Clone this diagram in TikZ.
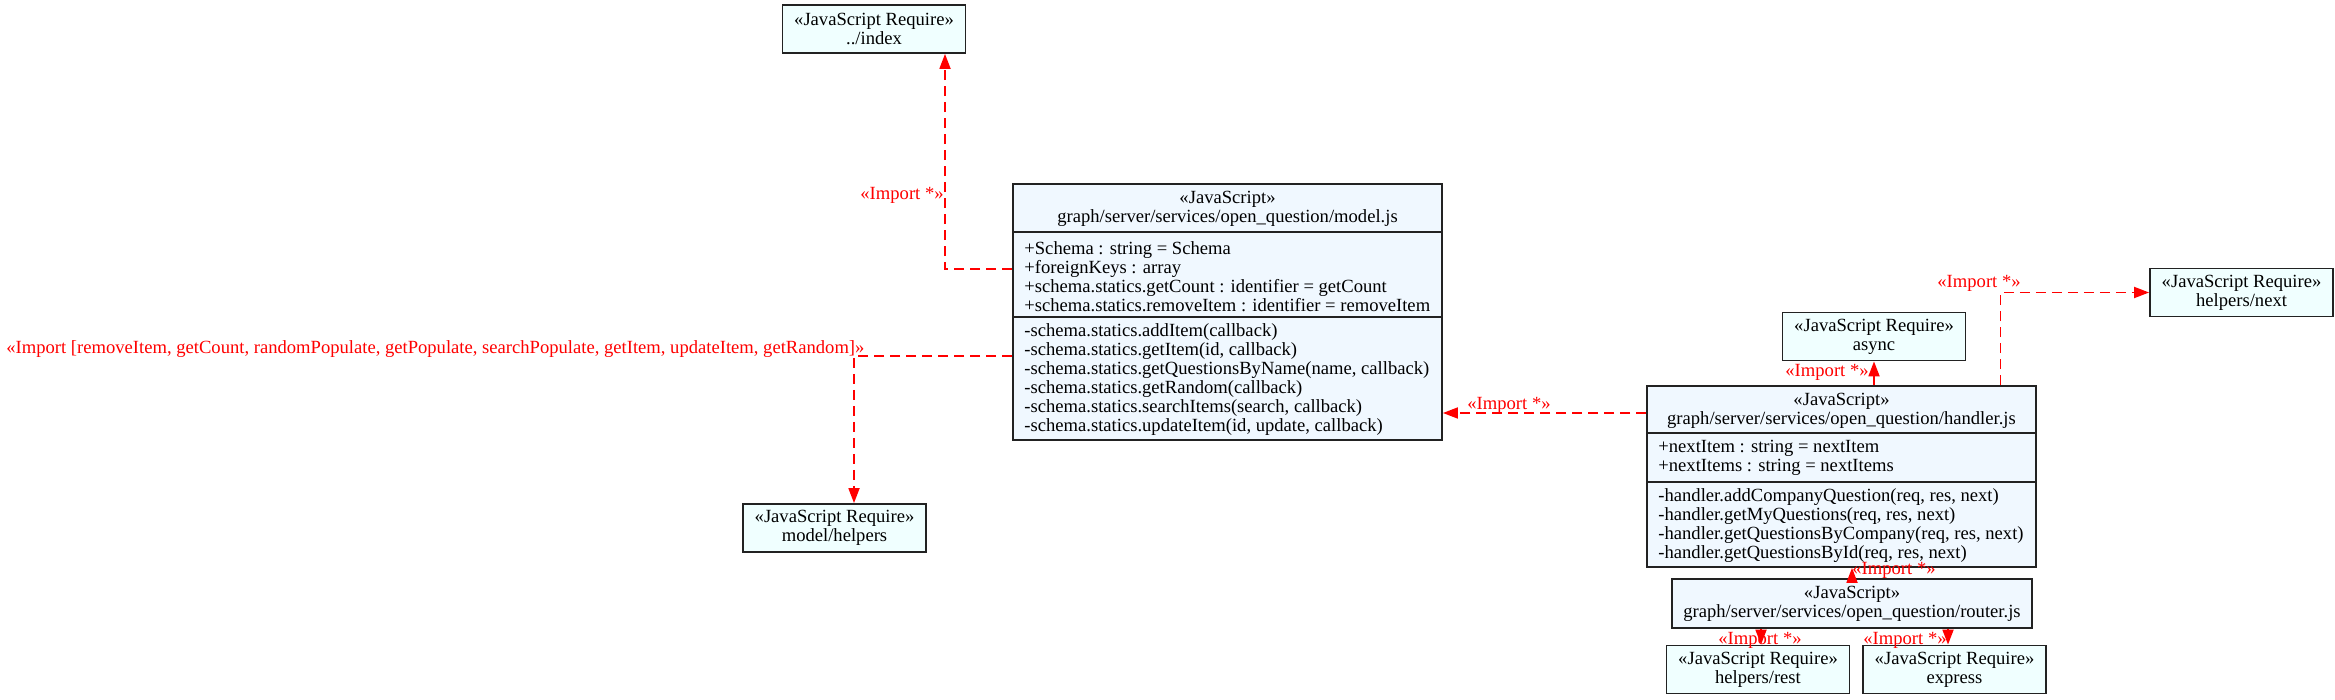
\documentclass[tikz,border=0pt]{standalone}
\usepackage{fontspec}
\setmainfont{Liberation Serif}
\usetikzlibrary{arrows.meta,calc}
\definecolor{jsfill}{HTML}{F0F8FF}
\definecolor{reqfill}{HTML}{F0FFFF}
\definecolor{edgered}{HTML}{FF0000}
\definecolor{boxdraw}{HTML}{222222}
\begin{document}
\begin{tikzpicture}[x=0.5pt,y=-0.5pt,
  every node/.style={font=\fontsize{9.3}{9.5}\selectfont, inner sep=0pt},
  reqbox/.style={draw=boxdraw, fill=reqfill, line width=0.9pt, minimum width=91.5pt, minimum height=24pt, align=center},
  jsbox/.style={draw=boxdraw, fill=jsfill, line width=0.9pt},
  divline/.style={draw=boxdraw, line width=0.9pt},
  imp/.style={draw=edgered, line width=0.9pt, dash pattern=on 5pt off 3pt, -{Triangle[length=7.5pt,width=5.5pt]}},
  implabel/.style={text=edgered}
]
\useasboundingbox (0,0) rectangle (2335,700);

% ---- boxes ----
\node[reqbox] (index) at (874,29) {«JavaScript Require»\\../index};
\node[reqbox] (mhelp) at (834.5,528) {«JavaScript Require»\\model/helpers};
\node[reqbox] (async) at (1874,336.5) {«JavaScript Require»\\async};
\node[reqbox] (next) at (2241.5,292.5) {«JavaScript Require»\\helpers/next};
\node[reqbox] (rest) at (1758,669.5) {«JavaScript Require»\\helpers/rest};
\node[reqbox] (express) at (1954.5,669.5) {«JavaScript Require»\\express};

% model.js
\node[jsbox, minimum width=214.5pt, minimum height=128pt] (model) at (1227.5,312) {};
\draw[divline] (model.west |- 0,232) -- (model.east |- 0,232);
\draw[divline] (model.west |- 0,317) -- (model.east |- 0,317);
\node[align=center] (modelhead) at (1227.5,209) {«JavaScript»\\graph/server/services/open\_question/model.js};
\node[align=left, anchor=west] (modelattr) at (1024,276.5) {+Schema : string = Schema\\+foreignKeys : array\\+schema.statics.getCount : identifier = getCount\\+schema.statics.removeItem : identifier = removeItem};
\node[align=left, anchor=west] (modelmeth) at (1024,380) {-schema.statics.addItem(callback)\\-schema.statics.getItem(id, callback)\\-schema.statics.getQuestionsByName(name, callback)\\-schema.statics.getRandom(callback)\\-schema.statics.searchItems(search, callback)\\-schema.statics.updateItem(id, update, callback)};

% handler.js
\node[jsbox, minimum width=194.5pt, minimum height=90.5pt] (handler) at (1841.5,476.5) {};
\draw[divline] (handler.west |- 0,433) -- (handler.east |- 0,433);
\draw[divline] (handler.west |- 0,482) -- (handler.east |- 0,482);
\node[align=center] (handlerhead) at (1841.5,411) {«JavaScript»\\graph/server/services/open\_question/handler.js};
\node[align=left, anchor=west] (handlerattr) at (1658,458) {+nextItem : string = nextItem\\+nextItems : string = nextItems};
\node[align=left, anchor=west] (handlermeth) at (1658,525.5) {-handler.addCompanyQuestion(req, res, next)\\-handler.getMyQuestions(req, res, next)\\-handler.getQuestionsByCompany(req, res, next)\\-handler.getQuestionsById(req, res, next)};

% router.js
\node[jsbox, minimum width=180pt, minimum height=24.5pt, align=center] (router) at (1852,603.5) {«JavaScript»\\graph/server/services/open\_question/router.js};

% ---- edges ----
\draw[imp] ($(model.west)+(0,-43)$) -| ($(index.south)+(71,0)$);
\node[implabel, anchor=east] (l1) at (944,195) {«Import *»};

\draw[imp] ($(model.west)+(0,44)$) -| ($(mhelp.north)+(19.5,0)$);
\node[implabel, anchor=west] (l2) at (6,349) {«Import [removeItem, getCount, randomPopulate, getPopulate, searchPopulate, getItem, updateItem, getRandom]»};

\coordinate (e3s) at ($(handler.west)+(0,-63.5)$);
\draw[imp] (e3s) -- (e3s -| model.east);
\node[implabel] (l3) at (1509,405) {«Import *»};

\draw[imp] (handler.north -| async.south) -- (async.south);
\node[implabel, anchor=east] (l4) at (1869,372) {«Import *»};

\draw[imp] ($(handler.north)+(159,0)$) |- (next.west);
\node[implabel] (l5) at (1979,283) {«Import *»};

\draw[imp] (router.north) -- (router.north |- handler.south);
\node[implabel] (l6) at (1894,570) {«Import *»};

\coordinate (e7e) at ($(rest.north)+(3,0)$);
\draw[imp] (router.south -| e7e) -- (e7e);
\node[implabel] (l7) at (1760,640) {«Import *»};

\coordinate (e8e) at ($(express.north)+(-6.5,0)$);
\draw[imp] (router.south -| e8e) -- (e8e);
\node[implabel] (l8) at (1905,640) {«Import *»};
\end{tikzpicture}
\end{document}
